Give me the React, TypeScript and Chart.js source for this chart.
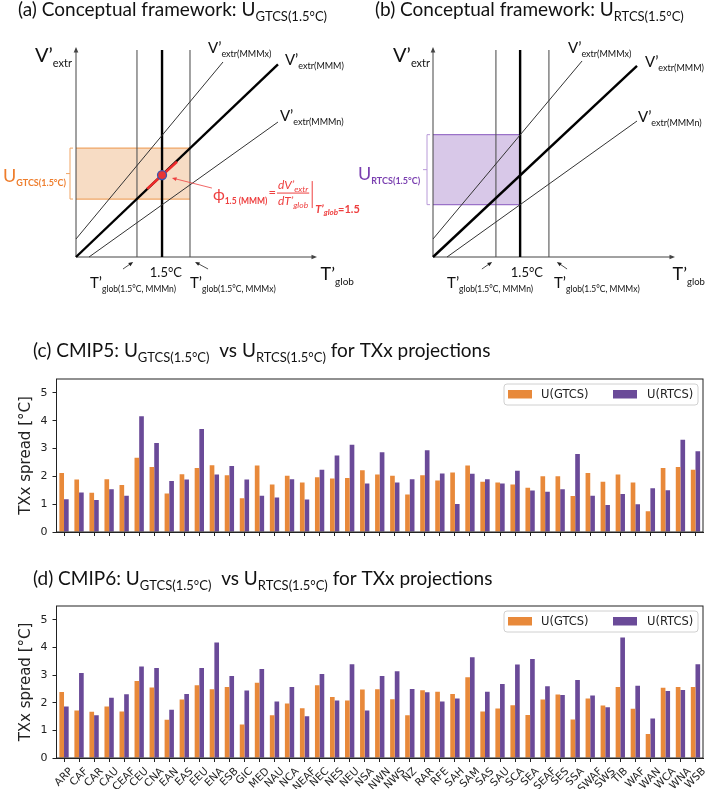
import React, { useEffect, useRef } from 'react';
import { Chart, registerables } from 'chart.js';
Chart.register(...registerables);

// ---------------- data ----------------
const regions = ['ARP','CAF','CAR','CAU','CEAF','CEU','CNA','EAN','EAS','EEU','ENA','ESB','GIC','MED','NAU','NCA','NEAF','NEC','NES','NEU','NSA','NWN','NWS','NZ','RAR','RFE','SAH','SAM','SAS','SAU','SCA','SEA','SEAF','SES','SSA','SWAF','SWS','TIB','WAF','WAN','WCA','WNA','WSB'];

const cmip5GTCS = [2.12,1.89,1.41,1.90,1.69,2.67,2.34,1.38,2.08,2.30,2.40,2.04,1.21,2.39,1.71,2.02,1.78,1.97,1.92,1.94,2.22,2.07,2.02,1.35,2.04,1.85,2.14,2.39,1.81,1.78,1.71,1.59,2.00,2.00,1.29,2.12,1.81,2.07,1.78,0.75,2.30,2.34,2.24];
const cmip5RTCS = [1.18,1.42,1.15,1.54,1.30,4.16,3.20,1.83,1.89,3.70,2.07,2.37,1.89,1.30,1.24,1.90,1.17,2.24,2.75,3.14,1.74,2.87,1.78,1.90,2.94,2.10,1.01,2.09,1.90,1.74,2.20,1.49,1.45,1.54,2.80,1.30,0.97,1.37,1.00,1.57,1.50,3.32,2.90];
const cmip6GTCS = [2.39,1.72,1.67,1.86,1.68,2.79,2.55,1.38,2.12,2.63,2.49,2.57,1.21,2.72,1.55,1.97,1.80,2.63,2.21,2.08,2.48,2.49,2.13,1.55,2.45,2.40,2.32,2.92,1.68,1.79,1.91,1.56,2.12,2.30,1.39,2.15,1.90,2.57,1.78,0.87,2.54,2.57,2.57];
const cmip6RTCS = [1.86,3.08,1.55,2.18,2.31,3.31,3.26,1.75,2.32,3.26,4.18,2.97,2.44,3.22,2.04,2.57,1.51,3.04,2.08,3.39,1.72,2.97,3.14,2.50,2.38,2.04,2.15,3.65,2.40,2.68,3.38,3.58,2.60,2.28,2.82,2.26,1.84,4.36,2.61,1.43,2.42,2.46,3.39];
const yTicks = [0, 1, 2, 3, 4, 5];
const legendLabels = ['U(GTCS)', 'U(RTCS)'];
const yTitle = 'TXx spread [°C]';

// conceptual diagrams (arbitrary units, axes 0..10)
const aVerticals = [2.53, 3.57, 4.73];
const aLineMMM = [{ x: 0, y: 0 }, { x: 8.38, y: 9.3 }];
const aLineMMMx = [{ x: 0, y: 0.87 }, { x: 6.1, y: 9.42 }];
const aLineMMMn = [{ x: 0.54, y: 0 }, { x: 8.38, y: 6.52 }];
const aBox = [0, 4.73, 2.80, 5.26];
const aSlope = [{ x: 2.95, y: 3.29 }, { x: 4.19, y: 4.6 }];
const aDot = [{ x: 3.57, y: 3.96 }];

const bVerticals = [2.60, 3.60, 4.79];
const bLineMMM = [{ x: 0, y: 0 }, { x: 8.43, y: 9.23 }];
const bLineMMMx = [{ x: 0, y: 0.87 }, { x: 6.16, y: 9.47 }];
const bLineMMMn = [{ x: 0.58, y: 0 }, { x: 8.43, y: 6.57 }];
const bBox = [0, 3.60, 2.53, 5.91];

// ---------------- styles ----------------
const ORANGE = '#e8893a';
const PURPLE = '#6a4a98';
const RED = '#ee4040';
const SANS = 'Lato, "Noto Sans", "DejaVu Sans", sans-serif';
const MPL = '"DejaVu Sans", sans-serif';

type Seg = { t: string; s: number; dy?: number; b?: boolean; i?: boolean };

function segFont(g: Seg) {
  return `${g.i ? 'italic ' : ''}${g.b ? 'bold ' : ''}${g.s}px ${SANS}`;
}
function richWidth(ctx: any, segs: Seg[]) {
  let w = 0;
  for (const g of segs) { ctx.font = segFont(g); w += ctx.measureText(g.t).width; }
  return w;
}
function drawRich(ctx: any, x: number, y: number, segs: Seg[], color: string, align = 'left') {
  ctx.save();
  ctx.fillStyle = color;
  ctx.textAlign = 'left';
  ctx.textBaseline = 'alphabetic';
  const w = richWidth(ctx, segs);
  let cx = align === 'center' ? x - w / 2 : x;
  for (const g of segs) {
    ctx.font = segFont(g);
    ctx.fillText(g.t, cx, y + (g.dy || 0));
    cx += ctx.measureText(g.t).width;
  }
  ctx.restore();
  return w;
}
function arrow(ctx: any, x1: number, y1: number, x2: number, y2: number, color: string, lw: number, head: number) {
  ctx.save();
  ctx.strokeStyle = color; ctx.fillStyle = color; ctx.lineWidth = lw;
  const a = Math.atan2(y2 - y1, x2 - x1);
  ctx.beginPath(); ctx.moveTo(x1, y1); ctx.lineTo(x2 - Math.cos(a) * head * 0.6, y2 - Math.sin(a) * head * 0.6); ctx.stroke();
  ctx.beginPath();
  ctx.moveTo(x2, y2);
  ctx.lineTo(x2 - head * Math.cos(a - 0.4), y2 - head * Math.sin(a - 0.4));
  ctx.lineTo(x2 - head * Math.cos(a + 0.4), y2 - head * Math.sin(a + 0.4));
  ctx.closePath();
  ctx.fill();
  ctx.restore();
}

const cfgA: any = {
  pad: { left: 76, right: 48, top: 50, bottom: 43 },
  title: [{ t: '(a) Conceptual framework: U', s: 19 }, { t: 'GTCS(1.5°C)', s: 13, dy: 5 }],
  titleX: 18, titleY: 16,
  verticals: aVerticals, mmm: aLineMMM, mmmx: aLineMMMx, mmmn: aLineMMMn, box: aBox,
  slope: aSlope, dot: aDot,
  boxFill: '#f7dcc4', boxEdge: '#f0a565', bracketColor: '#f0a565',
  uLabel: { x: -3.03, y: 3.62, segs: [{ t: 'U', s: 18 }, { t: 'GTCS(1.5°C)', s: 9, b: true, dy: 4 }], color: '#ee7d2c' },
  labels: [
    { x: -1.70, y: 9.42, segs: [{ t: 'V’', s: 20 }, { t: 'extr', s: 11, dy: 5 }] },
    { x: 5.48, y: 9.86, segs: [{ t: 'V’', s: 15 }, { t: 'extr(MMMx)', s: 9, dy: 4 }] },
    { x: 8.67, y: 9.28, segs: [{ t: 'V’', s: 15 }, { t: 'extr(MMM)', s: 9, dy: 4 }] },
    { x: 8.46, y: 6.57, segs: [{ t: 'V’', s: 15 }, { t: 'extr(MMMn)', s: 9, dy: 4 }] },
    { x: 10.15, y: -1.11, segs: [{ t: 'T’', s: 18 }, { t: 'glob', s: 10, dy: 5 }] },
    { x: 3.73, y: -0.97, segs: [{ t: '1.5°C', s: 13 }], align: 'center' },
    { x: 0.58, y: -1.5, segs: [{ t: 'T’', s: 15 }, { t: 'glob(1.5°C, MMMn)', s: 8.5, dy: 4 }] },
    { x: 4.73, y: -1.5, segs: [{ t: 'T’', s: 15 }, { t: 'glob(1.5°C, MMMx)', s: 8.5, dy: 4 }] },
  ],
  arrows: [
    { from: [1.95, -0.58], to: [2.37, -0.24], color: '#222' },
    { from: [5.48, -0.58], to: [4.94, -0.24], color: '#222' },
    { from: [5.64, 3.33], to: [3.98, 3.82], color: RED },
  ],
  formula: { x: 5.68, y: 2.75 },
};

const cfgB: any = {
  pad: { left: 83, right: 34, top: 50, bottom: 43 },
  title: [{ t: '(b) Conceptual framework: U', s: 19 }, { t: 'RTCS(1.5°C)', s: 13, dy: 5 }],
  titleX: 25, titleY: 16,
  verticals: bVerticals, mmm: bLineMMM, mmmx: bLineMMMx, mmmn: bLineMMMn, box: bBox,
  boxFill: '#d8c8e8', boxEdge: '#9a72c8', bracketColor: '#b89ad8',
  uLabel: { x: -3.10, y: 3.72, segs: [{ t: 'U', s: 18 }, { t: 'RTCS(1.5°C)', s: 9, b: true, dy: 4 }], color: '#7a3fb0' },
  labels: [
    { x: -1.65, y: 9.42, segs: [{ t: 'V’', s: 20 }, { t: 'extr', s: 11, dy: 5 }] },
    { x: 5.58, y: 9.86, segs: [{ t: 'V’', s: 15 }, { t: 'extr(MMMx)', s: 9, dy: 4 }] },
    { x: 8.76, y: 9.18, segs: [{ t: 'V’', s: 15 }, { t: 'extr(MMM)', s: 9, dy: 4 }] },
    { x: 8.47, y: 6.52, segs: [{ t: 'V’', s: 15 }, { t: 'extr(MMMn)', s: 9, dy: 4 }] },
    { x: 9.9, y: -1.11, segs: [{ t: 'T’', s: 18 }, { t: 'glob', s: 9.5, dy: 5 }] },
    { x: 3.88, y: -0.97, segs: [{ t: '1.5°C', s: 13 }], align: 'center' },
    { x: 0.58, y: -1.5, segs: [{ t: 'T’', s: 15 }, { t: 'glob(1.5°C, MMMn)', s: 8.5, dy: 4 }] },
    { x: 5.0, y: -1.5, segs: [{ t: 'T’', s: 15 }, { t: 'glob(1.5°C, MMMx)', s: 8.5, dy: 4 }] },
  ],
  arrows: [
    { from: [2.02, -0.58], to: [2.44, -0.24], color: '#222' },
    { from: [5.54, -0.58], to: [5.12, -0.24], color: '#222' },
  ],
};

function diagramPlugin(cfg: any) {
  return {
    id: 'diagDeco',
    beforeDatasetsDraw(chart: any) {
      const ctx = chart.ctx;
      const X = (v: number) => chart.scales.x.getPixelForValue(v);
      const Y = (v: number) => chart.scales.y.getPixelForValue(v);
      const [bx0, bx1, by0, by1] = cfg.box;
      ctx.save();
      ctx.fillStyle = cfg.boxFill;
      ctx.fillRect(X(bx0), Y(by1), X(bx1) - X(bx0), Y(by0) - Y(by1));
      ctx.strokeStyle = cfg.boxEdge; ctx.lineWidth = 1.3;
      ctx.beginPath();
      ctx.moveTo(X(bx0), Y(by1)); ctx.lineTo(X(bx1), Y(by1));
      ctx.moveTo(X(bx0), Y(by0)); ctx.lineTo(X(bx1), Y(by0));
      ctx.stroke();
      const bp = X(0) - 6;
      ctx.strokeStyle = cfg.bracketColor; ctx.lineWidth = 1;
      ctx.beginPath();
      ctx.moveTo(bp + 3, Y(by1)); ctx.lineTo(bp, Y(by1)); ctx.lineTo(bp, Y(by0)); ctx.lineTo(bp + 3, Y(by0));
      const ym = (Y(by0) + Y(by1)) / 2;
      ctx.moveTo(bp, ym); ctx.lineTo(bp - 4, ym);
      ctx.stroke();
      ctx.restore();
      arrow(ctx, X(0), Y(0), X(10), Y(0), '#444', 1, 6);
      arrow(ctx, X(0), Y(0), X(0), Y(10.15), '#444', 1, 6);
    },
    afterDatasetsDraw(chart: any) {
      const ctx = chart.ctx;
      const X = (v: number) => chart.scales.x.getPixelForValue(v);
      const Y = (v: number) => chart.scales.y.getPixelForValue(v);
      drawRich(ctx, cfg.titleX, cfg.titleY, cfg.title, '#111');
      for (const l of cfg.labels) drawRich(ctx, X(l.x), Y(l.y), l.segs, '#111', l.align || 'left');
      drawRich(ctx, X(cfg.uLabel.x), Y(cfg.uLabel.y), cfg.uLabel.segs, cfg.uLabel.color);
      for (const a of cfg.arrows) arrow(ctx, X(a.from[0]), Y(a.from[1]), X(a.to[0]), Y(a.to[1]), a.color, 0.8, 5);
      if (cfg.formula) {
        const fx = X(cfg.formula.x), fy = Y(cfg.formula.y);
        let x = fx;
        x += drawRich(ctx, x, fy, [{ t: 'ϕ', s: 16 }, { t: '1.5 (MMM)', s: 8.5, b: true, dy: 4 }], RED);
        x += drawRich(ctx, x + 1, fy - 3, [{ t: '=', s: 13 }], RED) + 1;
        const num: Seg[] = [{ t: 'dV’', s: 12, i: true }, { t: 'extr', s: 8.5, i: true, dy: 3 }];
        const den: Seg[] = [{ t: 'dT’', s: 12, i: true }, { t: 'glob', s: 8.5, i: true, dy: 3 }];
        const fw = Math.max(richWidth(ctx, num), richWidth(ctx, den));
        const cx = x + 2 + fw / 2;
        drawRich(ctx, cx, fy - 11, num, RED, 'center');
        drawRich(ctx, cx, fy + 5, den, RED, 'center');
        ctx.save();
        ctx.strokeStyle = RED; ctx.lineWidth = 1;
        ctx.beginPath(); ctx.moveTo(x + 1, fy - 7); ctx.lineTo(x + fw + 3, fy - 7);
        ctx.moveTo(x + fw + 6, fy - 19); ctx.lineTo(x + fw + 6, fy + 8);
        ctx.stroke();
        ctx.restore();
        drawRich(ctx, x + fw + 9, fy + 13, [{ t: 'T’', s: 11, b: true, i: true }, { t: 'glob', s: 8, b: true, i: true, dy: 2 }, { t: '=1.5', s: 11, b: true }], RED);
      }
    },
  };
}

function makeDiagram(canvas: HTMLCanvasElement, cfg: any) {
  const line = (data: any[], color: string, width: number) => ({
    data, showLine: true, borderColor: color, borderWidth: width, pointRadius: 0, fill: false, clip: false,
  });
  const datasets: any[] = [];
  if (cfg.dot) datasets.push({ data: cfg.dot, showLine: false, pointRadius: 4.5, pointBackgroundColor: '#e83535', pointBorderColor: '#3a55b0', pointBorderWidth: 1.3, clip: false });
  if (cfg.slope) datasets.push(line(cfg.slope, '#ee2a2a', 2.6));
  datasets.push(line(cfg.mmm, '#000', 2.4));
  datasets.push(line(cfg.mmmx, '#333', 1));
  datasets.push(line(cfg.mmmn, '#333', 1));
  cfg.verticals.forEach((v: number, i: number) => {
    datasets.push(line([{ x: v, y: 0 }, { x: v, y: 10 }], i === 1 ? '#000' : '#555', i === 1 ? 2.4 : 1.1));
  });
  return new Chart(canvas, {
    type: 'scatter',
    data: { datasets },
    options: {
      animation: false, responsive: false, events: [],
      layout: { padding: cfg.pad },
      scales: {
        x: { type: 'linear', min: 0, max: 10, display: false },
        y: { type: 'linear', min: 0, max: 10, display: false },
      },
      plugins: { legend: { display: false }, tooltip: { enabled: false } },
    },
    plugins: [diagramPlugin(cfg)],
  } as any);
}

function barPlugin(cfg: any) {
  return {
    id: 'barDeco',
    afterDraw(chart: any) {
      const { ctx, chartArea: ca } = chart;
      ctx.save();
      ctx.strokeStyle = '#222'; ctx.lineWidth = 1;
      ctx.strokeRect(ca.left, ca.top, ca.right - ca.left, ca.bottom - ca.top);
      const bw = 194, bh = 21;
      const bx = ca.right - 5 - bw, by = ca.top + 5;
      ctx.fillStyle = 'rgba(255,255,255,0.85)'; ctx.strokeStyle = '#d0d0d0';
      ctx.beginPath();
      if (ctx.roundRect) ctx.roundRect(bx, by, bw, bh, 3); else ctx.rect(bx, by, bw, bh);
      ctx.fill(); ctx.stroke();
      const cy = by + bh / 2;
      ctx.fillStyle = ORANGE; ctx.fillRect(bx + 4, cy - 4.5, 24, 8.5);
      ctx.fillStyle = PURPLE; ctx.fillRect(bx + 109, cy - 4.5, 24, 8.5);
      ctx.fillStyle = '#222'; ctx.font = `11.5px ${MPL}`; ctx.textBaseline = 'middle'; ctx.textAlign = 'left';
      ctx.fillText(legendLabels[0], bx + 37, cy + 0.5);
      ctx.fillText(legendLabels[1], bx + 143, cy + 0.5);
      if (cfg.showLabels) {
        const xs = chart.scales.x;
        ctx.font = `10.5px ${MPL}`; ctx.fillStyle = '#222'; ctx.textAlign = 'center'; ctx.textBaseline = 'middle';
        const y0 = ca.bottom + 4 + 3.5;
        regions.forEach((r, i) => {
          const px = xs.getPixelForTick(i);
          const w = ctx.measureText(r).width;
          const half = (w + 12) * Math.SQRT1_2 / 2;
          ctx.save(); ctx.translate(px, y0 + half); ctx.rotate(-Math.PI / 4); ctx.fillText(r, 0, 0); ctx.restore();
        });
      }
      ctx.restore();
      drawRich(ctx, cfg.titleX, cfg.titleY, cfg.title, '#111');
    },
  };
}

function makeBars(canvas: HTMLCanvasElement, cfg: any) {
  return new Chart(canvas, {
    type: 'bar',
    data: {
      labels: regions,
      datasets: [
        { label: legendLabels[0], data: cfg.gtcs, backgroundColor: ORANGE, categoryPercentage: 0.62, barPercentage: 1, borderWidth: 0 },
        { label: legendLabels[1], data: cfg.rtcs, backgroundColor: PURPLE, categoryPercentage: 0.62, barPercentage: 1, borderWidth: 0 },
      ],
    },
    options: {
      animation: false, responsive: false, events: [],
      layout: { padding: { top: cfg.padTop, right: 6, left: 0, bottom: 0 } },
      plugins: { legend: { display: false }, tooltip: { enabled: false } },
      scales: {
        x: {
          type: 'category', offset: true,
          grid: { display: true, drawOnChartArea: false, drawTicks: true, tickLength: 4, offset: false, color: '#222' },
          border: { display: true, color: '#222', width: 1 },
          ticks: { display: false },
          afterFit: (s: any) => { s.height = cfg.xHeight; },
        },
        y: {
          min: 0, max: 5.5,
          afterBuildTicks: (s: any) => { s.ticks = yTicks.map((v) => ({ value: v })); },
          grid: { drawOnChartArea: false, drawTicks: true, tickLength: 4, color: '#222' },
          border: { display: true, color: '#222', width: 1 },
          ticks: { font: { family: MPL, size: 11 }, color: '#222', padding: 5 },
          title: { display: true, text: yTitle, font: { family: MPL, size: 15 }, color: '#222', padding: { top: 17.5, bottom: 0 } },
          afterFit: (s: any) => { s.width = 56.5; },
        },
      },
    },
    plugins: [barPlugin(cfg)],
  } as any);
}

const cfgC = {
  gtcs: cmip5GTCS, rtcs: cmip5RTCS, padTop: 44, xHeight: 13, showLabels: false,
  titleX: 33, titleY: 22,
  title: [{ t: '(c) CMIP5: U', s: 19 }, { t: 'GTCS(1.5°C)', s: 13, dy: 5 }, { t: '  vs U', s: 19 }, { t: 'RTCS(1.5°C)', s: 13, dy: 5 }, { t: ' for TXx projections', s: 19 }],
};
const cfgD = {
  gtcs: cmip6GTCS, rtcs: cmip6RTCS, padTop: 41, xHeight: 31, showLabels: true,
  titleX: 33, titleY: 20,
  title: [{ t: '(d) CMIP6: U', s: 19 }, { t: 'GTCS(1.5°C)', s: 13, dy: 5 }, { t: '  vs U', s: 19 }, { t: 'RTCS(1.5°C)', s: 13, dy: 5 }, { t: ' for TXx projections', s: 19 }],
};

export default function App() {
  const refA = useRef<HTMLCanvasElement>(null);
  const refB = useRef<HTMLCanvasElement>(null);
  const refC = useRef<HTMLCanvasElement>(null);
  const refD = useRef<HTMLCanvasElement>(null);
  useEffect(() => {
    const charts = [
      makeDiagram(refA.current!, cfgA),
      makeDiagram(refB.current!, cfgB),
      makeBars(refC.current!, cfgC),
      makeBars(refD.current!, cfgD),
    ];
    return () => charts.forEach((c) => c.destroy());
  }, []);
  const abs = (left: number, top: number): any => ({ position: 'absolute', left, top });
  return (
    <div style={{ position: 'absolute', left: 0, top: 0, width: 709, height: 789, background: '#fff', overflow: 'hidden' }}>
      <canvas ref={refA} width={365} height={300} style={abs(0, 0)} />
      <canvas ref={refB} width={359} height={300} style={abs(350, 0)} />
      <canvas ref={refC} width={709} height={210} style={abs(0, 335)} />
      <canvas ref={refD} width={709} height={224} style={abs(0, 565)} />
    </div>
  );
}
